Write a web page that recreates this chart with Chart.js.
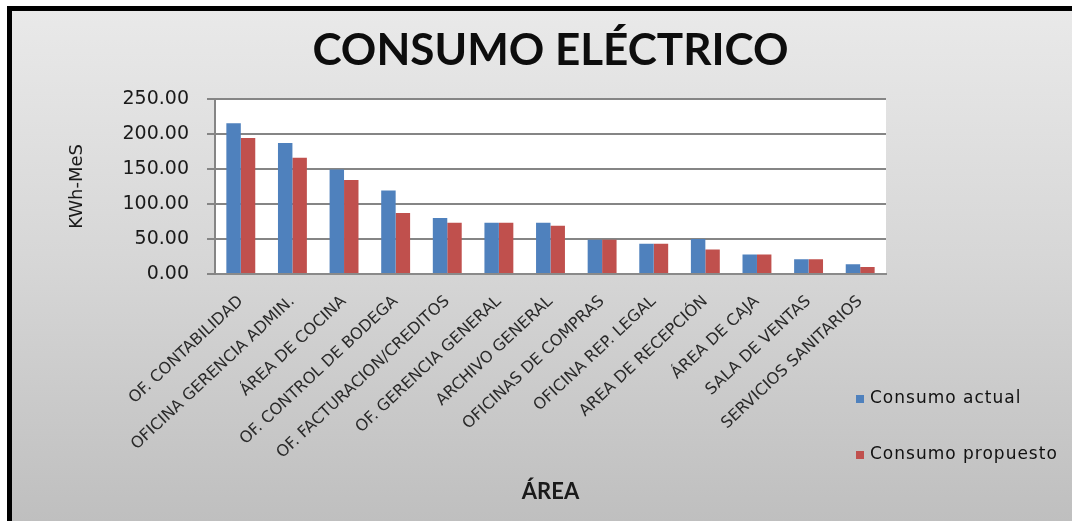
<!DOCTYPE html>
<html>
<head>
<meta charset="utf-8">
<script src="https://cdn.jsdelivr.net/npm/chart.js@4/dist/chart.umd.min.js"></script>
<style>
  html, body { margin: 0; padding: 0; background: #ffffff; }
  canvas { display: block; }
</style>
</head>
<body>
<canvas id="grafico" width="1072" height="521"></canvas>
<script>
// Áreas de la empresa (eje X)
const areas = [
  "OF. CONTABILIDAD",
  "OFICINA GERENCIA ADMIN.",
  "ÁREA DE COCINA",
  "OF. CONTROL DE BODEGA",
  "OF. FACTURACION/CREDITOS",
  "OF. GERENCIA GENERAL",
  "ARCHIVO GENERAL",
  "OFICINAS DE COMPRAS",
  "OFICINA REP. LEGAL",
  "AREA DE RECEPCIÓN",
  "ÁREA DE CAJA",
  "SALA DE VENTAS",
  "SERVICIOS SANITARIOS"
];

// Consumo en KWh-mes por área
const consumoActual    = [215, 187, 149, 119, 80, 73, 73, 49, 43, 50, 28, 21, 14];
const consumoPropuesto = [194, 166, 134, 87, 73, 73, 69, 49, 43, 35, 28, 21, 10];

// Marcas del eje Y
const marcasY = [0, 50, 100, 150, 200, 250];

const AZUL = "#4f81bd";
const ROJO = "#c0504d";

// Fondo del gráfico: marco negro, degradado gris y área de trazado blanca
const fondo = {
  id: "fondo",
  beforeDraw(chart) {
    const { ctx, width, height, chartArea } = chart;
    ctx.save();
    ctx.fillStyle = "#ffffff";
    ctx.fillRect(0, 0, width, height);
    ctx.fillStyle = "#000000";
    ctx.fillRect(7, 6, width - 7, height - 6);
    const g = ctx.createLinearGradient(0, 11, 0, height);
    g.addColorStop(0, "#e9e9e9");
    g.addColorStop(0.5, "#d6d6d6");
    g.addColorStop(1, "#bfbfbf");
    ctx.fillStyle = g;
    ctx.fillRect(12, 11, width - 12, height - 11);
    ctx.fillStyle = "#ffffff";
    ctx.fillRect(chartArea.left, chartArea.top, chartArea.right - chartArea.left, chartArea.bottom - chartArea.top);
    ctx.restore();
  }
};

// Leyenda a la derecha, bajo el área de trazado
const leyenda = {
  id: "leyenda",
  afterDraw(chart) {
    const { ctx } = chart;
    const posY = [399, 455];
    ctx.save();
    ctx.font = "17px 'DejaVu Sans'";
    ctx.letterSpacing = "1px";
    ctx.textBaseline = "middle";
    ctx.textAlign = "left";
    chart.data.datasets.forEach((ds, i) => {
      ctx.fillStyle = ds.backgroundColor;
      ctx.fillRect(856, posY[i] - 4, 8, 8);
      ctx.fillStyle = "#111111";
      ctx.fillText(ds.label, 870, posY[i]);
    });
    ctx.restore();
  }
};

new Chart(document.getElementById("grafico"), {
  type: "bar",
  data: {
    labels: areas,
    datasets: [
      { label: "Consumo actual", data: consumoActual, backgroundColor: AZUL },
      { label: "Consumo propuesto", data: consumoPropuesto, backgroundColor: ROJO }
    ]
  },
  options: {
    responsive: false,
    animation: false,
    layout: { padding: { left: 12, right: 186, top: 0, bottom: 0 } },
    datasets: { bar: { barPercentage: 1.0, categoryPercentage: 0.56 } },
    plugins: {
      legend: { display: false },
      tooltip: { enabled: false },
      title: {
        display: true,
        fullSize: false,
        text: "CONSUMO ELÉCTRICO",
        color: "#0d0d0d",
        font: { family: "Lato", size: 44, weight: "bold" },
        padding: { top: 24, bottom: 22 }
      }
    },
    scales: {
      x: {
        grid: { display: false, drawTicks: false },
        border: { display: true, color: "#8a8a8a", width: 2 },
        ticks: {
          autoSkip: false,
          minRotation: 43,
          maxRotation: 43,
          padding: 18,
          color: "#2a2a2a",
          font: { family: "DejaVu Sans", size: 16 }
        },
        title: {
          display: true,
          text: "ÁREA",
          color: "#1a1a1a",
          font: { family: "Lato", size: 22, weight: "bold" },
          padding: { top: 0, bottom: 16 }
        },
        afterFit(scale) { scale.height = 247; }
      },
      y: {
        min: 0,
        max: 250,
        afterBuildTicks(scale) { scale.ticks = marcasY.map(v => ({ value: v })); },
        grid: { color: "#858585", lineWidth: 2, tickLength: 8, drawTicks: true },
        border: { display: true, color: "#858585", width: 2 },
        ticks: {
          padding: 18,
          color: "#1a1a1a",
          font: { family: "DejaVu Sans", size: 19 },
          callback: v => Number(v).toFixed(2)
        },
        title: {
          display: true,
          text: "KWh-MeS",
          color: "#1a1a1a",
          font: { family: "DejaVu Sans", size: 18 },
          padding: { top: 55, bottom: 0 }
        },
        afterFit(scale) { scale.width = 203; }
      }
    }
  },
  plugins: [fondo, leyenda]
});
</script>
</body>
</html>
